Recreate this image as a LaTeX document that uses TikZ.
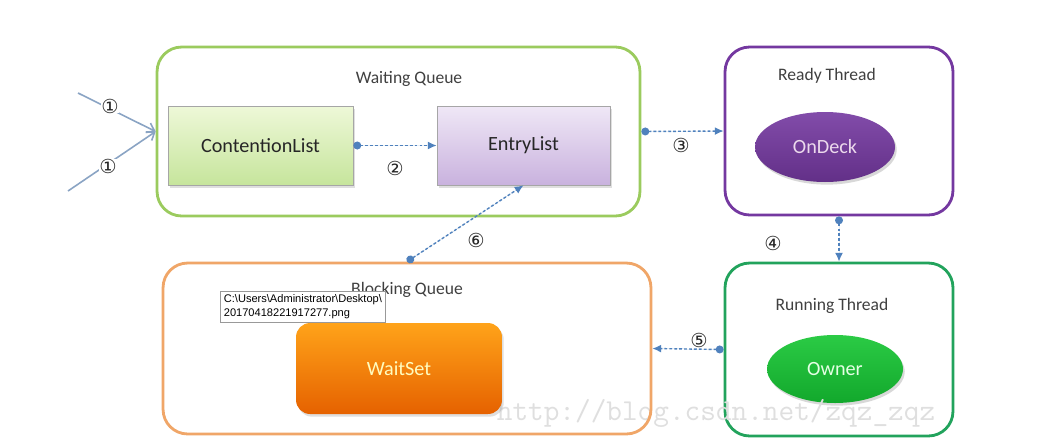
\documentclass[tikz,border=0pt]{standalone}
\usepackage{fontspec}
\setmainfont{Carlito}
\newfontfamily\circfont{DejaVu Sans}
\newfontfamily\tipfont{Liberation Sans}
\usetikzlibrary{arrows.meta,shapes.geometric,shadows}
\definecolor{wqgreen}{HTML}{9BCB5E}
\definecolor{rdpurple}{HTML}{7438A0}
\definecolor{rngreen}{HTML}{22A35C}
\definecolor{bqorange}{HTML}{F0A668}
\definecolor{flowblue}{HTML}{4F81BD}
\definecolor{inblue}{HTML}{8AA4C4}
\definecolor{titlegray}{HTML}{404040}
\definecolor{cltop}{HTML}{EEF8D8}
\definecolor{clbottom}{HTML}{C6E59C}
\definecolor{eltop}{HTML}{EFE7F6}
\definecolor{elbottom}{HTML}{C9B2DE}
\definecolor{owntop}{HTML}{2BCB45}
\definecolor{ownbottom}{HTML}{12A82C}
\tikzset{
    %Define standard arrow tip
    >={Latex[length=5pt,width=4.5pt]},
    %Define style for the big queue boxes
    queue/.style={
           rectangle,
           rounded corners=14pt,
           line width=1.6pt},
    %Define style for the list boxes
    slot/.style={
           rectangle,
           draw=gray!70,
           text=black!85,
           font=\fontsize{11.5}{13}\selectfont,
           drop shadow={opacity=0.25,shadow xshift=1pt,shadow yshift=-1.5pt}},
    %Define style for the thread ellipses
    holder/.style={
           ellipse,
           font=\fontsize{11.5}{13}\selectfont,
           minimum width=2.8cm,
           minimum height=1.4cm,
           drop shadow={opacity=0.3,shadow xshift=1pt,shadow yshift=-1.5pt}},
    title/.style={
           text=titlegray,
           font=\fontsize{10}{12}\selectfont},
    step label/.style={
           font=\circfont\fontsize{11}{12}\selectfont,
           text=black!85,
           inner sep=0pt},
    % Define arrow style
    flow/.style={
           {Circle[length=4.5pt]}->,
           draw=flowblue,
           fill=flowblue,
           line width=0.8pt,
           dash pattern=on 1.6pt off 1.2pt},
    inflow/.style={
           -{Straight Barb[length=4pt,width=6pt]},
           draw=inblue,
           line width=0.9pt}
}
\begin{document}
\begin{tikzpicture}[x=0.02cm,y=-0.02cm]
\useasboundingbox[fill=white] (0,0) rectangle (1050,444);

% waiting queue
\node[queue, draw=wqgreen, minimum width=9.66cm, minimum height=3.38cm] (waiting) at (398.5,131.5) {};
\node[title] (waitingtitle) at (409,79) {Waiting Queue};
\node[slot, top color=cltop, bottom color=clbottom, minimum width=3.7cm, minimum height=1.58cm] (contention) at (260.5,145.5) {ContentionList};
\node[slot, top color=eltop, bottom color=elbottom, minimum width=3.46cm, minimum height=1.58cm] (entry) at (523.5,145.5) {EntryList}
  (contention.east) edge[flow] (entry.west);
\node[step label] (two) at (395,168) {②};

% ready thread
\node[queue, draw=rdpurple, minimum width=4.56cm, minimum height=3.36cm] (ready) at (839,131) {}
  (waiting.east) edge[flow] (ready.west);
\node[title] (readytitle) at (827,76) {Ready Thread};
\node[holder, top color=rdpurple!90, bottom color=rdpurple!85!black, text=violet!15] (ondeck) at (825,147) {OnDeck};
\node[step label] (three) at (681,145) {③};

% running thread
\node[queue, draw=rngreen, minimum width=4.56cm, minimum height=3.46cm] (running) at (839,349.5) {}
  (ready.south) edge[flow] (running.north);
\node[title] (runningtitle) at (832,306) {Running Thread};
\node[holder, minimum width=2.72cm, minimum height=1.36cm, top color=owntop, bottom color=ownbottom, text=green!10] (owner) at (835,369) {Owner};
\node[step label] (four) at (773,243) {④};

% watermark
\node[anchor=base, text=gray!25, font=\ttfamily\fontsize{17.3}{20}\selectfont] (mark) at (716,420) {http://blog.csdn.net/zqz\_zqz};

% blocking queue
\node[queue, draw=bqorange, minimum width=9.76cm, minimum height=3.42cm] (blocking) at (407,348.5) {}
  (running.west) edge[flow] (blocking.east)
  (blocking.north) edge[flow] (entry.south);
\node[title] (blockingtitle) at (407,290) {Blocking Queue};
\node[slot, draw=none, rounded corners=8pt, top color=orange!80!yellow!90, bottom color=orange!85!red!90!black, text=yellow!25, minimum width=4.12cm, minimum height=1.82cm] (waitset) at (399,368.5) {WaitSet};
\node[step label] (five) at (699,340) {⑤};
\node[step label] (six) at (476,240) {⑥};

% incoming threads
\coordinate (upper) at (78,93);
\coordinate (lower) at (68,191);
\draw[inflow] (upper) -- (waiting.west);
\draw[inflow] (lower) -- (waiting.west);
\node[step label, fill=white] (oneup) at (110,106) {①};
\node[step label, fill=white] (onelow) at (108,166) {①};

% file tip
\node[anchor=north west, draw=gray!80, fill=white, inner sep=2pt, align=left, text width=3.15cm, minimum height=0.56cm, font=\tipfont\fontsize{6.3}{7.6}\selectfont] (tip) at (220,291) {C:\textbackslash Users\textbackslash Administrator\textbackslash Desktop\textbackslash\\20170418221917277.png};
\end{tikzpicture}
\end{document}
